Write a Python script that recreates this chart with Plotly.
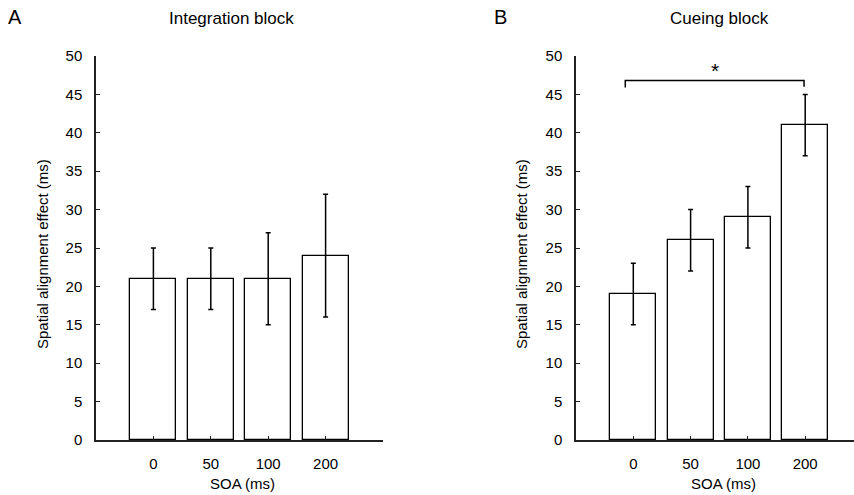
import plotly.graph_objects as go

categories = ["0", "50", "100", "200"]
integration_mean = [21, 21, 21, 24]
integration_err = [4, 4, 6, 8]
cueing_mean = [19, 26, 29, 41]
cueing_err = [4, 4, 4, 4]
y_ticks = [0, 5, 10, 15, 20, 25, 30, 35, 40, 45, 50]

FONT = "Liberation Sans, Arial, Helvetica, sans-serif"
pos = list(range(len(categories)))

fig = go.Figure()

def add_bars(mean, err, xa, ya):
    fig.add_trace(go.Bar(
        x=pos, y=mean, width=0.8,
        marker=dict(color="white", line=dict(color="black", width=1.3)),
        error_y=dict(type="data", array=err, visible=True, color="black",
                     thickness=1.5, width=2.5),
        xaxis=xa, yaxis=ya, showlegend=False, hoverinfo="skip"))

add_bars(integration_mean, integration_err, "x", "y")
add_bars(cueing_mean, cueing_err, "x2", "y2")

W, H = 854, 495
ydom = [1 - 440 / H, 1 - 56 / H]
axis_common = dict(showline=True, linecolor="#222", linewidth=1.5, ticks="inside",
                   ticklen=4, tickcolor="#222", tickwidth=1, showgrid=False,
                   zeroline=False, automargin=False,
                   tickfont=dict(family=FONT, size=15, color="black"))

fig.update_layout(
    width=W, height=H, margin=dict(l=0, r=0, t=0, b=0, autoexpand=False),
    plot_bgcolor="white", paper_bgcolor="white", bargap=0,
    xaxis=dict(domain=[96 / W, 383 / W], range=[-1, 4], tickvals=pos, ticktext=categories,
               anchor="y", ticklabelstandoff=9, **axis_common),
    yaxis=dict(domain=ydom, range=[0, 50], tickvals=y_ticks, anchor="x",
               ticklabelstandoff=9, **axis_common),
    xaxis2=dict(domain=[576 / W, 1.0], range=[-1, (W - 576) / 57.3 - 1], tickvals=pos,
                ticktext=categories, anchor="y2", ticklabelstandoff=9, **axis_common),
    yaxis2=dict(domain=ydom, range=[0, 50], tickvals=y_ticks, anchor="x2",
                ticklabelstandoff=9, **axis_common),
)

# significance bracket
fig.add_shape(type="path", xref="x2", yref="y2",
              path="M -0.14,45.9 L -0.14,46.8 L 2.98,46.8 L 2.98,46.0",
              line=dict(color="black", width=1.5))
fig.add_annotation(x=1.42, y=46.3, xref="x2", yref="y2", text="*", showarrow=False,
                   xanchor="center", yanchor="bottom",
                   font=dict(family=FONT, size=21, color="black"))

def ann(text, x, y, size, **kw):
    fig.add_annotation(x=x / W, y=1 - y / H, xref="paper", yref="paper", text=text,
                       showarrow=False, xanchor="center", yanchor="middle",
                       font=dict(family=FONT, size=size, color="black"), **kw)

ann("A", 15, 17, 20)
ann("B", 500, 17, 20)
ann("Integration block", 231, 18, 17)
ann("Cueing block", 719, 18, 17)
ann("SOA (ms)", 243, 483, 15)
ann("SOA (ms)", 723, 483, 15)
ann("Spatial alignment effect (ms)", 42, 254, 15, textangle=-90)
ann("Spatial alignment effect (ms)", 521, 254, 15, textangle=-90)

fig.write_html("out.html")
